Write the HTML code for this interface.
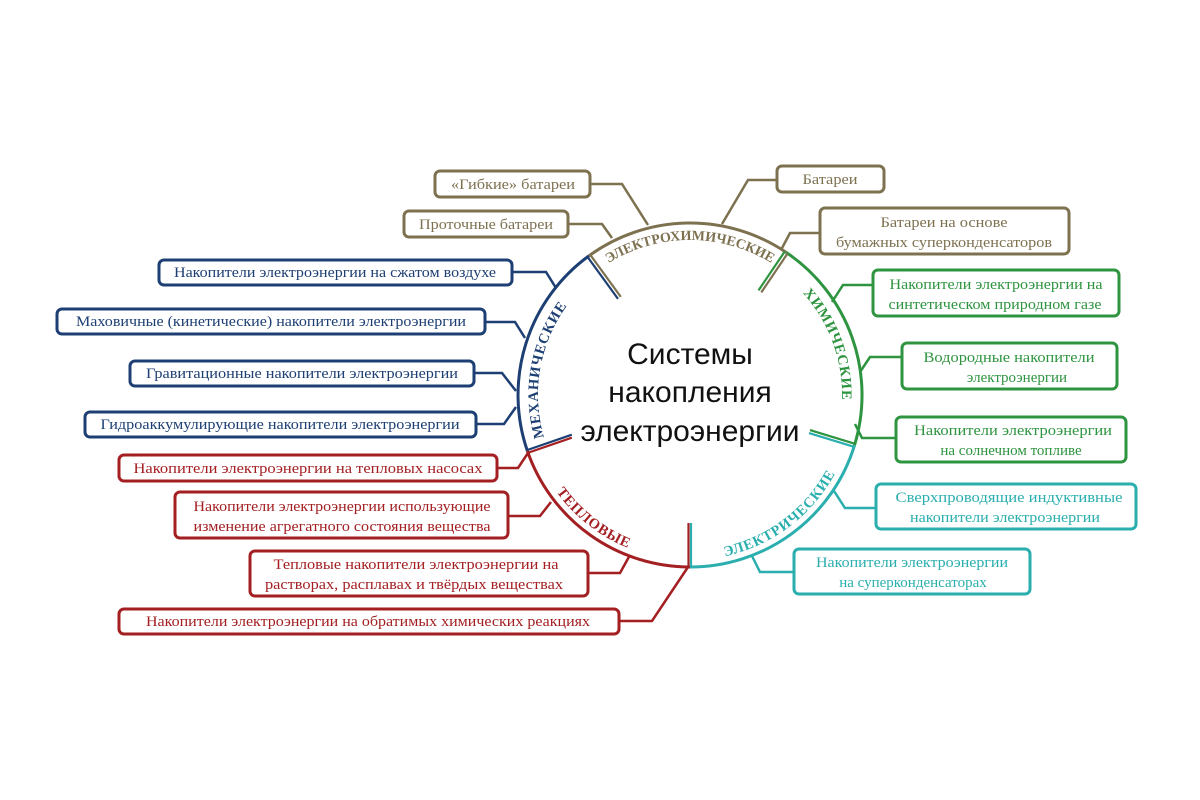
<!DOCTYPE html>
<html><head><meta charset="utf-8"><style>
html,body{margin:0;padding:0;background:#fff;}
svg{display:block;}
text{font-family:"Liberation Serif","DejaVu Serif",serif;font-size:15px;}
.t{font-family:"Liberation Sans","DejaVu Sans",sans-serif;font-size:30px;fill:#111;}
.arc{font-size:14.5px;font-weight:bold;letter-spacing:0.8px;}
.ec{font-size:14px;letter-spacing:0;}
</style></head><body>
<svg width="1200" height="800" viewBox="0 0 1200 800" xmlns="http://www.w3.org/2000/svg">
<defs>
<path id="pMech" d="M565.5,482.2 A152,152 0 0 1 602.8,270.5"/>
<path id="pEC" d="M580.4,285.4 A155,155 0 0 1 799.6,285.4"/>
<path id="pChem" d="M754.2,257.2 A152,152 0 0 1 827.8,459.2"/>
<path id="pEl" d="M667.0,558.4 A165,165 0 0 0 853.4,418.0"/>
<path id="pTh" d="M526.2,415.1 A165,165 0 0 0 710.1,558.8"/>
</defs>
<g fill="none" stroke-width="3">
<path d="M527.4,451 A172,172 0 0 1 588.9,255.9" stroke="#1d3f73"/>
<path d="M588.9,255.9 A172,172 0 0 1 786.2,252.4" stroke="#7d7150"/>
<path d="M786.2,252.4 A172,172 0 0 1 854.5,445.3" stroke="#2e9440"/>
<path d="M854.5,445.3 A172,172 0 0 1 690,567" stroke="#2aaeae"/>
<path d="M690,567 A172,172 0 0 1 527.4,451" stroke="#a31f22"/>
</g>
<g fill="none" stroke-width="2.2">
<line x1="527.4" y1="453" x2="571.8" y2="437.7" stroke="#a31f22"/>
<line x1="527.4" y1="450" x2="571.8" y2="434.7" stroke="#1d3f73"/>
<line x1="587.5" y1="256.9" x2="618" y2="298.9" stroke="#1d3f73"/>
<line x1="590.3" y1="254.9" x2="620.8" y2="296.9" stroke="#7d7150"/>
<line x1="787.6" y1="253.4" x2="761.3" y2="292.4" stroke="#7d7150"/>
<line x1="784.8" y1="251.4" x2="758.5" y2="290.4" stroke="#2e9440"/>
<line x1="855" y1="443.8" x2="810" y2="430.1" stroke="#2e9440"/>
<line x1="854" y1="446.8" x2="809" y2="433.1" stroke="#2aaeae"/>
<line x1="688.5" y1="567" x2="688.5" y2="523" stroke="#a31f22"/>
<line x1="691" y1="567" x2="691" y2="523" stroke="#2aaeae"/>
</g>
<text class="arc" fill="#1d3f73"><textPath href="#pMech" startOffset="50%" text-anchor="middle">МЕХАНИЧЕСКИЕ</textPath></text>
<text class="arc ec" fill="#7d7150"><textPath href="#pEC" startOffset="50%" text-anchor="middle">ЭЛЕКТРОХИМИЧЕСКИЕ</textPath></text>
<text class="arc" fill="#2e9440"><textPath href="#pChem" startOffset="50%" text-anchor="middle">ХИМИЧЕСКИЕ</textPath></text>
<text class="arc" fill="#2aaeae"><textPath href="#pEl" startOffset="50%" text-anchor="middle">ЭЛЕКТРИЧЕСКИЕ</textPath></text>
<text class="arc" fill="#a31f22"><textPath href="#pTh" startOffset="50%" text-anchor="middle">ТЕПЛОВЫЕ</textPath></text>

<text class="t" x="690" y="364" text-anchor="middle">Системы</text>
<text class="t" x="690" y="402" text-anchor="middle">накопления</text>
<text class="t" x="690" y="441" text-anchor="middle">электроэнергии</text>

<g fill="none" stroke-width="2.5">
<polyline stroke="#7d7150" points="590,184 622,184 648,225"/>
<polyline stroke="#7d7150" points="568,224 602,224 612,238"/>
<polyline stroke="#7d7150" points="777,180 748,180 722,224"/>
<polyline stroke="#7d7150" points="820,233 790,233 781,250"/>
<polyline stroke="#1d3f73" points="512,272 546,272 556,288"/>
<polyline stroke="#1d3f73" points="485,322 515,322 525,338"/>
<polyline stroke="#1d3f73" points="474,373 502,373 516,391"/>
<polyline stroke="#1d3f73" points="476,424 504,424 516,407"/>
<polyline stroke="#a31f22" points="497,468 518,468 528,453"/>
<polyline stroke="#a31f22" points="508,516 540,516 551,502"/>
<polyline stroke="#a31f22" points="588,573 620,573 630,555"/>
<polyline stroke="#a31f22" points="619,621 652,621 688,567"/>
<polyline stroke="#2e9440" points="873,285 843,285 832,302"/>
<polyline stroke="#2e9440" points="902,357 870,357 860,372"/>
<polyline stroke="#2e9440" points="896,438 862,438 855,424"/>
<polyline stroke="#2aaeae" points="876,508 845,508 834,491"/>
<polyline stroke="#2aaeae" points="794,572 760,572 752,556"/>
</g>

<g fill="#fff" stroke-width="3">
<rect x="435" y="171" width="155" height="26" rx="5" stroke="#7d7150"/>
<rect x="404" y="211" width="164" height="26" rx="5" stroke="#7d7150"/>
<rect x="777" y="166" width="107" height="26" rx="5" stroke="#7d7150"/>
<rect x="820" y="208" width="249" height="46" rx="5" stroke="#7d7150"/>
<rect x="159" y="260" width="353" height="25" rx="5" stroke="#1d3f73"/>
<rect x="57" y="309" width="428" height="25" rx="5" stroke="#1d3f73"/>
<rect x="130" y="361" width="344" height="25" rx="5" stroke="#1d3f73"/>
<rect x="85" y="412" width="391" height="25" rx="5" stroke="#1d3f73"/>
<rect x="119" y="455" width="378" height="26" rx="5" stroke="#a31f22"/>
<rect x="175" y="492" width="333" height="46" rx="5" stroke="#a31f22"/>
<rect x="250" y="551" width="338" height="45" rx="5" stroke="#a31f22"/>
<rect x="119" y="609" width="500" height="25" rx="5" stroke="#a31f22"/>
<rect x="873" y="270" width="246" height="46" rx="5" stroke="#2e9440"/>
<rect x="902" y="343" width="215" height="46" rx="5" stroke="#2e9440"/>
<rect x="896" y="417" width="230" height="45" rx="5" stroke="#2e9440"/>
<rect x="876" y="484" width="260" height="45" rx="5" stroke="#2aaeae"/>
<rect x="794" y="549" width="236" height="45" rx="5" stroke="#2aaeae"/>
</g>

<g text-anchor="middle">
<g fill="#7d7150">
<text x="513" y="189" textLength="124" lengthAdjust="spacingAndGlyphs">«Гибкие» батареи</text>
<text x="486" y="229" textLength="134" lengthAdjust="spacingAndGlyphs">Проточные батареи</text>
<text x="830" y="184" textLength="55" lengthAdjust="spacingAndGlyphs">Батареи</text>
<text x="944" y="227" textLength="127" lengthAdjust="spacingAndGlyphs">Батареи на основе</text>
<text x="944" y="247" textLength="216" lengthAdjust="spacingAndGlyphs">бумажных суперконденсаторов</text>
</g>
<g fill="#1d3f73">
<text x="335" y="277" textLength="322" lengthAdjust="spacingAndGlyphs">Накопители электроэнергии на сжатом воздухе</text>
<text x="271" y="326" textLength="390" lengthAdjust="spacingAndGlyphs">Маховичные (кинетические) накопители электроэнергии</text>
<text x="302" y="378" textLength="312" lengthAdjust="spacingAndGlyphs">Гравитационные накопители электроэнергии</text>
<text x="280" y="429" textLength="359" lengthAdjust="spacingAndGlyphs">Гидроаккумулирующие  накопители электроэнергии</text>
</g>
<g fill="#a31f22">
<text x="308" y="473" textLength="349" lengthAdjust="spacingAndGlyphs">Накопители электроэнергии на тепловых насосах</text>
<text x="342" y="511" textLength="297" lengthAdjust="spacingAndGlyphs">Накопители электроэнергии использующие</text>
<text x="342" y="531" textLength="297" lengthAdjust="spacingAndGlyphs">изменение агрегатного состояния вещества</text>
<text x="416" y="569" textLength="285" lengthAdjust="spacingAndGlyphs">Тепловые накопители электроэнергии на</text>
<text x="414" y="589" textLength="298" lengthAdjust="spacingAndGlyphs">растворах, расплавах и твёрдых веществах</text>
<text x="368" y="626" textLength="444" lengthAdjust="spacingAndGlyphs">Накопители электроэнергии на обратимых химических  реакциях</text>
</g>
<g fill="#2e9440">
<text x="996" y="289" textLength="213" lengthAdjust="spacingAndGlyphs">Накопители электроэнергии на</text>
<text x="995" y="309" textLength="213" lengthAdjust="spacingAndGlyphs">синтетическом природном газе</text>
<text x="1009" y="362" textLength="171" lengthAdjust="spacingAndGlyphs">Водородные накопители</text>
<text x="1017" y="382">электроэнергии</text>
<text x="1013" y="435" textLength="198" lengthAdjust="spacingAndGlyphs">Накопители электроэнергии</text>
<text x="1011" y="455">на солнечном топливе</text>
</g>
<g fill="#2aaeae">
<text x="1009" y="502" textLength="227" lengthAdjust="spacingAndGlyphs">Сверхпроводящие индуктивные</text>
<text x="1005" y="522" textLength="190" lengthAdjust="spacingAndGlyphs">накопители электроэнергии</text>
<text x="912" y="567" textLength="192" lengthAdjust="spacingAndGlyphs">Накопители электроэнергии</text>
<text x="913" y="587">на суперконденсаторах</text>
</g>
</g>
</svg>
</body></html>
